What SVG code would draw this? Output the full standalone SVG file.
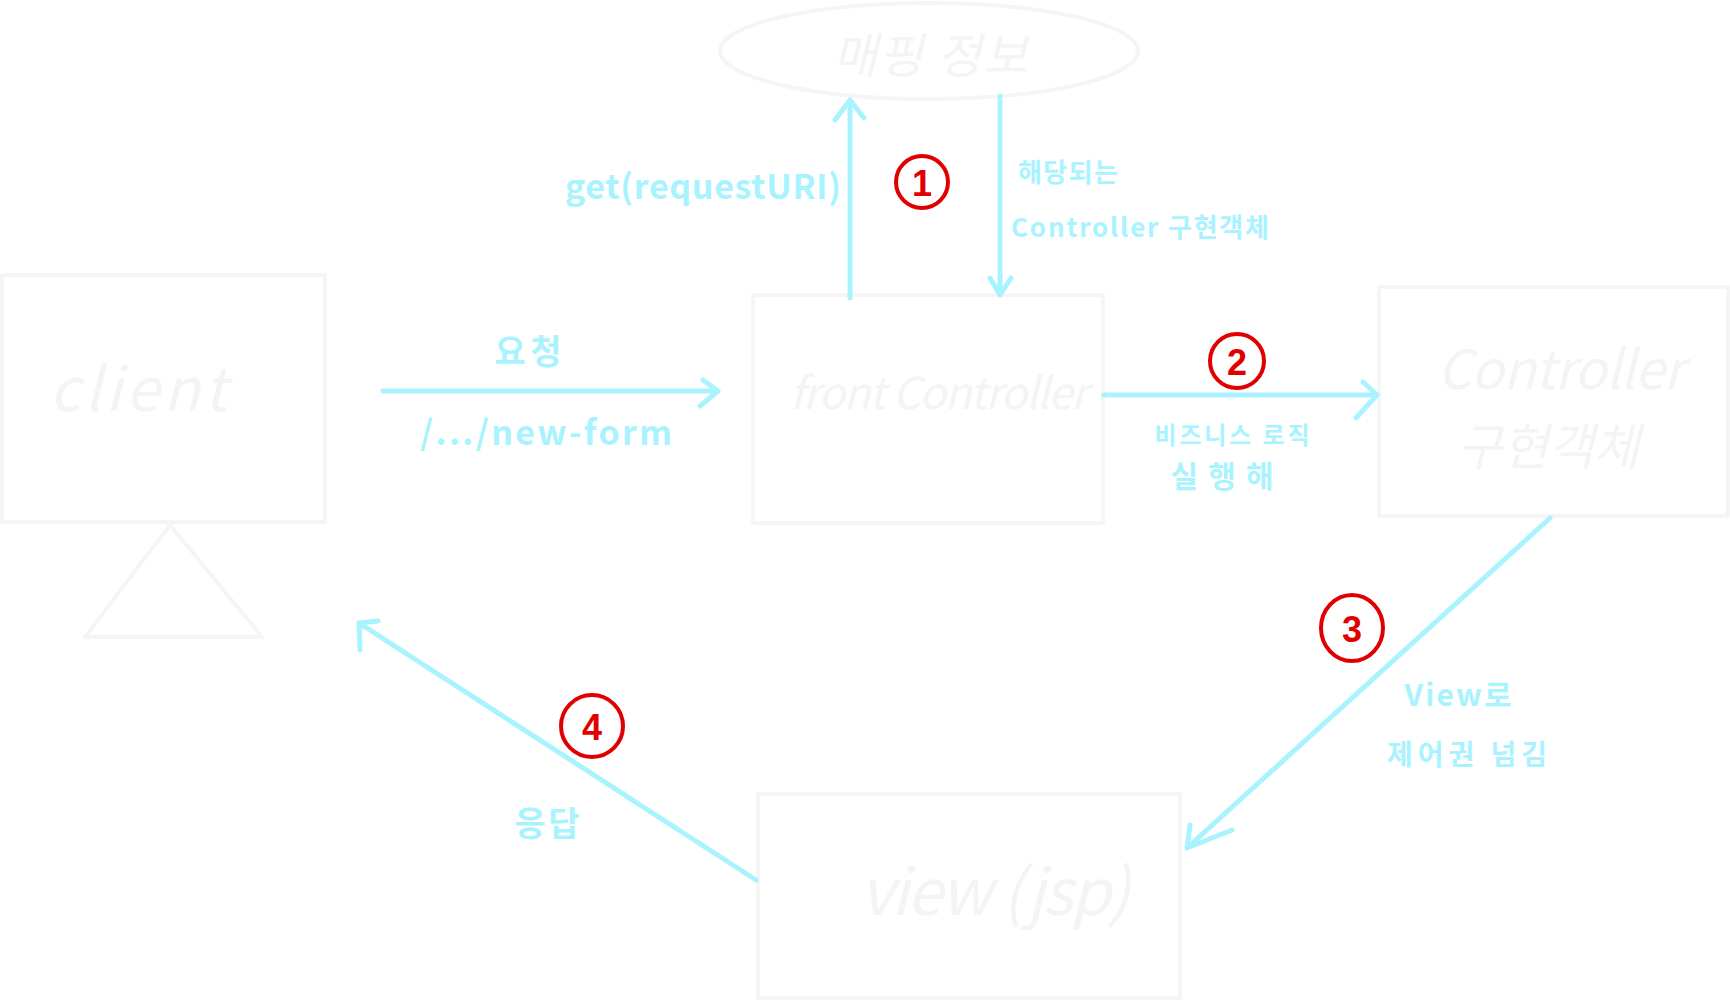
<svg xmlns="http://www.w3.org/2000/svg" width="1730" height="1000" viewBox="0 0 1730 1000">
<style>
.box{fill:none;stroke:#f5f5f5;stroke-width:4;stroke-linejoin:round}
.ft{fill:#f4f4f4;font-family:"Noto Sans CJK KR","Liberation Sans",sans-serif;font-style:italic;dominant-baseline:central;text-anchor:middle}
.lbl{fill:#a9f3ff;font-family:"Noto Sans CJK KR","Liberation Sans",sans-serif;font-weight:bold;dominant-baseline:central;text-anchor:middle}
.con{fill:none;stroke:#a9f3ff;stroke-width:5;stroke-linecap:round;stroke-linejoin:round}
.num circle{fill:none;stroke:#e00000;stroke-width:4}
.num text{fill:#e00000;font-family:"Liberation Sans",sans-serif;font-weight:bold;font-size:36px;dominant-baseline:central;text-anchor:middle}
</style>
<rect width="1730" height="1000" fill="#ffffff"/>
<g id="mapping">
<ellipse class="box" cx="929" cy="51" rx="209" ry="48"/>
<text class="ft" x="930" y="52" font-size="48" textLength="194">매핑 정보</text>
</g>
<g id="client">
<rect class="box" x="2" y="275" width="323" height="247"/>
<path class="box" d="M170 525 L85 637 L262 637 Z"/>
<text class="ft" x="138" y="384" font-size="60" textLength="177">client</text>
</g>
<g id="front-controller">
<rect class="box" x="753" y="295" width="350" height="228"/>
<text class="ft" x="939" y="390" font-size="44" textLength="298">front Controller</text>
</g>
<g id="controller">
<rect class="box" x="1379" y="287" width="349" height="229"/>
<text class="ft" x="1561" y="365" font-size="54" textLength="247">Controller</text>
<text class="ft" x="1548" y="443" font-size="50" textLength="183">구현객체</text>
</g>
<g id="view">
<rect class="box" x="758" y="794" width="422" height="204"/>
<text class="ft" x="995" y="887" font-size="64" textLength="270">view (jsp)</text>
</g>
<g id="connectors">
<path class="con" d="M850 298 L850 100 M835 120 L850 100 L864 118"/>
<path class="con" d="M1000 96 L1000 295 M990 278 L1000 295 L1011 278"/>
<path class="con" d="M383 391 L718 391 M703 380 L718 391 L700 406"/>
<path class="con" d="M1104 395 L1377 395 M1363 382 L1377 395 L1356 418"/>
<path class="con" d="M1550 518 L1187 848 M1190 825 L1187 848 L1232 830"/>
<path class="con" d="M756 880 L359 623 M360 650 L359 623 L378 621"/>
</g>
<g id="labels">
<text class="lbl" x="703" y="184" font-size="34" textLength="276">get(requestURI)</text>
<text class="lbl" x="1068" y="170" font-size="26" textLength="100">해당되는</text>
<text class="lbl" x="1140" y="225" font-size="26" textLength="258">Controller 구현객체</text>
<text class="lbl" x="528" y="349" font-size="34" textLength="67">요청</text>
<text class="lbl" x="546" y="430" font-size="34" textLength="252">/.../new-form</text>
<text class="lbl" x="1232" y="433" font-size="24" textLength="155">비즈니스 로직</text>
<text class="lbl" x="1222" y="474" font-size="30" textLength="103">실행해</text>
<text class="lbl" x="1458" y="693" font-size="30" textLength="107">View로</text>
<text class="lbl" x="1467" y="753" font-size="28" textLength="160">제어권 넘김</text>
<text class="lbl" x="547" y="821" font-size="34" textLength="65">응답</text>
</g>
<g class="num" id="step1"><circle cx="922" cy="182" r="26"/><text x="922" y="183">1</text></g>
<g class="num" id="step2"><circle cx="1237" cy="361" r="27"/><text x="1237" y="362">2</text></g>
<g class="num" id="step3"><ellipse cx="1352" cy="628" rx="31" ry="33" fill="none" stroke="#e00000" stroke-width="4"/><text x="1352" y="629">3</text></g>
<g class="num" id="step4"><circle cx="592" cy="726" r="31"/><text x="592" y="727">4</text></g>
</svg>
